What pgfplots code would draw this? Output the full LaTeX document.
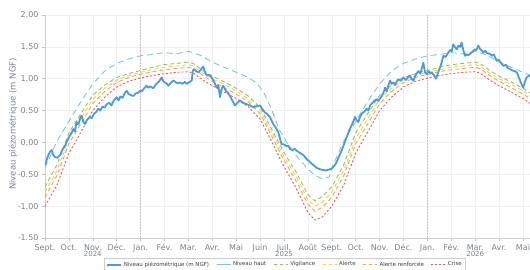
\documentclass[border=0pt]{standalone}
\usepackage{pgfplots}
\pgfplotsset{compat=1.18}
\usepackage{fontspec}
\setmainfont{DejaVu Sans}
\definecolor{obs}{RGB}{74,155,226}
\definecolor{haut}{RGB}{125,196,228}
\definecolor{vig}{RGB}{143,196,86}
\definecolor{alerte}{RGB}{246,206,80}
\definecolor{renf}{RGB}{245,166,60}
\definecolor{crise}{RGB}{235,90,90}
\definecolor{txt}{RGB}{122,130,142}
\begin{document}
\begin{tikzpicture}
\useasboundingbox (0,0) rectangle (530pt,270pt);
\clip (0,0) rectangle (530pt,270pt);
\begin{axis}[
  at={(45pt,32pt)}, anchor=south west,
  scale only axis, width=501.9pt, height=223pt,
  xmin=0, xmax=21, ymin=-1.5, ymax=2,
  axis x line=bottom, axis y line=left,
  axis line style={-, draw=gray!40, line width=0.5pt},
  xtick={0,...,20},
  xticklabels={Sept.,Oct.,Nov.,Déc.,Jan.,Fév.,Mar.,Avr.,Mai,Juin,Juil.,Août,Sept.,Oct.,Nov.,Déc.,Jan.,Fév.,Mar.,Avr.,Mai},
  ytick={-1.5,-1,-0.5,0,0.5,1,1.5,2},
  yticklabels={-1.50,-1.00,-0.50,0.00,0.50,1.00,1.50,2.00},
  tick label style={font=\fontsize{8}{9}\selectfont, text=txt},
  tick align=outside, major tick length=3pt,
  tick style={draw=gray!50, line width=0.5pt},
  grid=major, major grid style={draw=gray!12, line width=0.5pt},
  legend style={at={(0.478,-0.0897)}, anchor=north, legend columns=6,
    font=\fontsize{5.5}{6.5}\selectfont, draw=gray!40, text=black!75,
    inner sep=1.5pt,
    /tikz/every even column/.append style={column sep=5pt}},
  legend cell align=left,
  legend image code/.code={\draw[#1] (0pt,0pt) -- (14pt,0pt);},
]
\addlegendimage{obs, line width=1.8pt}
\addlegendentry{Niveau piézométrique (m NGF)}
\addlegendimage{haut, line width=0.9pt}
\addlegendentry{Niveau haut}
\addlegendimage{vig, line width=0.9pt, dash pattern=on 3pt off 3pt}
\addlegendentry{Vigilance}
\addlegendimage{alerte, line width=0.9pt, dash pattern=on 3pt off 3pt}
\addlegendentry{Alerte}
\addlegendimage{renf, line width=0.9pt, dash pattern=on 3pt off 3pt}
\addlegendentry{Alerte renforcée}
\addlegendimage{crise, line width=0.9pt, dash pattern=on 2pt off 2pt}
\addlegendentry{Crise}

\draw[gray!45, line width=0.5pt, dash pattern=on 1.5pt off 1.5pt] (axis cs:4,-1.5) -- (axis cs:4,2);
\draw[gray!45, line width=0.5pt, dash pattern=on 1.5pt off 1.5pt] (axis cs:16,-1.5) -- (axis cs:16,2);

% Niveau haut
\addplot[forget plot, haut, line width=0.9pt, dash pattern=on 6pt off 4pt] coordinates {
(0,-0.40)(0.5,0.02)(1,0.33)(1.5,0.64)(2,0.92)(2.5,1.12)(3,1.24)(3.5,1.31)(4,1.36)(4.5,1.38)(5,1.41)(5.5,1.39)(6,1.43)(6.5,1.37)(7,1.26)(7.5,1.18)(8,1.10)(8.5,1.02)(8.9,0.92)(9.2,0.75)(9.5,0.50)(9.8,0.20)(10.2,-0.05)(10.5,-0.20)(11,-0.42)(11.3,-0.52)(11.6,-0.57)(11.9,-0.54)
(12,-0.40)(12.5,0.02)(13,0.33)(13.5,0.64)(14,0.92)(14.5,1.12)(15,1.24)(15.5,1.31)(16,1.36)(16.5,1.38)(17,1.41)(17.5,1.39)(18,1.43)(18.5,1.37)(19,1.26)(19.5,1.18)(20,1.10)(20.5,1.02)
};
% Vigilance
\addplot[forget plot, vig, line width=0.9pt, dash pattern=on 4pt off 3pt] coordinates {
(0,-0.70)(0.5,-0.35)(1,0.15)(1.5,0.45)(2,0.74)(2.5,0.90)(3,1.02)(3.5,1.08)(4,1.13)(4.5,1.18)(5,1.22)(5.5,1.24)(6,1.26)(6.2,1.24)(6.6,1.13)(7,1.04)(7.5,0.95)(8,0.85)(8.5,0.73)(9,0.55)(9.5,0.20)(10,-0.16)(10.5,-0.46)(11,-0.82)(11.3,-0.92)(11.6,-0.85)
(12,-0.70)(12.5,-0.35)(13,0.15)(13.5,0.45)(14,0.74)(14.5,0.90)(15,1.02)(15.5,1.08)(16,1.13)(16.5,1.18)(17,1.22)(17.5,1.24)(18,1.26)(18.2,1.24)(18.6,1.13)(19,1.04)(19.5,0.95)(20,0.85)(20.5,0.73)
};
% Alerte
\addplot[forget plot, alerte, line width=0.9pt, dash pattern=on 4pt off 3pt] coordinates {
(0,-0.78)(0.5,-0.44)(1,0.06)(1.5,0.37)(2,0.68)(2.5,0.85)(3,0.98)(3.5,1.05)(4,1.10)(4.5,1.14)(5,1.18)(5.5,1.20)(6,1.22)(6.2,1.20)(6.6,1.09)(7,1.00)(7.5,0.91)(8,0.81)(8.5,0.68)(9,0.50)(9.5,0.15)(10,-0.22)(10.5,-0.53)(11,-0.90)(11.3,-1.00)(11.6,-0.94)
(12,-0.78)(12.5,-0.44)(13,0.06)(13.5,0.37)(14,0.68)(14.5,0.85)(15,0.98)(15.5,1.05)(16,1.10)(16.5,1.14)(17,1.18)(17.5,1.20)(18,1.22)(18.2,1.20)(18.6,1.09)(19,1.00)(19.5,0.91)(20,0.81)(20.5,0.68)
};
% Alerte renforcee
\addplot[forget plot, renf, line width=0.9pt, dash pattern=on 4pt off 3pt] coordinates {
(0,-0.86)(0.5,-0.52)(1,-0.02)(1.5,0.29)(2,0.61)(2.5,0.80)(3,0.94)(3.5,1.02)(4,1.07)(4.5,1.11)(5,1.14)(5.5,1.16)(6,1.18)(6.2,1.16)(6.6,1.05)(7,0.96)(7.5,0.86)(8,0.76)(8.5,0.64)(9,0.45)(9.5,0.09)(10,-0.28)(10.5,-0.60)(11,-0.97)(11.3,-1.08)(11.6,-1.02)
(12,-0.86)(12.5,-0.52)(13,-0.02)(13.5,0.29)(14,0.61)(14.5,0.80)(15,0.94)(15.5,1.02)(16,1.07)(16.5,1.11)(17,1.14)(17.5,1.16)(18,1.18)(18.2,1.16)(18.6,1.05)(19,0.96)(19.5,0.86)(20,0.76)(20.5,0.64)
};
% Crise
\addplot[forget plot, crise, line width=0.9pt, dash pattern=on 2pt off 2pt] coordinates {
(0,-1.00)(0.5,-0.67)(1,-0.17)(1.5,0.16)(2,0.50)(2.5,0.71)(3,0.87)(3.5,0.96)(4,1.01)(4.5,1.05)(5,1.08)(5.5,1.10)(6,1.11)(6.2,1.09)(6.6,0.98)(7,0.89)(7.5,0.79)(8,0.69)(8.5,0.56)(9,0.37)(9.5,0.00)(10,-0.38)(10.5,-0.71)(11,-1.10)(11.3,-1.22)(11.6,-1.17)
(12,-1.00)(12.5,-0.67)(13,-0.17)(13.5,0.16)(14,0.50)(14.5,0.71)(15,0.87)(15.5,0.96)(16,1.01)(16.5,1.05)(17,1.08)(17.5,1.10)(18,1.11)(18.2,1.09)(18.6,0.98)(19,0.89)(19.5,0.79)(20,0.69)(20.5,0.56)
};
% Observed level
\addplot[forget plot, obs, line width=1.8pt, line join=round] coordinates {
(0.00,-0.35)(0.05,-0.30)(0.12,-0.22)(0.20,-0.15)(0.28,-0.12)(0.35,-0.20)(0.42,-0.23)(0.52,-0.24)(0.63,-0.20)(0.72,-0.12)(0.84,-0.05)(0.92,0.02)(1.00,0.08)(1.05,0.11)(1.12,0.16)(1.19,0.21)(1.25,0.17)(1.32,0.32)(1.40,0.28)(1.47,0.38)(1.53,0.42)(1.60,0.33)(1.67,0.29)(1.75,0.35)(1.88,0.40)(1.95,0.38)
(2.05,0.45)(2.15,0.48)(2.23,0.53)(2.32,0.50)(2.40,0.56)(2.50,0.55)(2.58,0.60)(2.68,0.62)(2.78,0.58)(2.88,0.66)(3.00,0.71)(3.08,0.66)(3.15,0.72)(3.25,0.70)(3.33,0.77)(3.42,0.81)(3.50,0.76)(3.60,0.74)(3.70,0.73)(3.80,0.77)(3.90,0.78)(3.97,0.81)
(4.05,0.80)(4.15,0.85)(4.25,0.89)(4.32,0.86)(4.40,0.88)(4.53,0.85)(4.62,0.90)(4.72,0.94)(4.80,0.97)(4.88,1.02)(4.95,0.96)(5.02,0.94)(5.10,0.92)(5.16,0.89)(5.25,0.93)(5.37,0.97)(5.45,0.95)(5.55,0.93)(5.65,0.94)(5.75,0.92)(5.85,0.95)(5.93,0.92)
(6.05,0.95)(6.14,0.97)(6.18,1.12)(6.23,1.15)(6.32,1.12)(6.42,1.10)(6.52,1.14)(6.62,1.19)(6.70,1.10)(6.77,1.05)(6.88,1.06)(6.97,1.02)(7.08,0.95)(7.18,0.86)(7.25,0.90)(7.32,0.71)(7.40,0.85)(7.46,0.89)(7.55,0.82)(7.65,0.78)(7.74,0.73)(7.85,0.65)(7.95,0.58)
(8.05,0.62)(8.16,0.66)(8.30,0.62)(8.44,0.60)(8.58,0.58)(8.72,0.55)(8.85,0.57)(9.00,0.58)(9.10,0.52)(9.20,0.47)(9.28,0.45)(9.41,0.40)(9.55,0.29)(9.69,0.21)(9.76,0.16)(9.90,-0.03)
(10.00,-0.03)(10.10,-0.06)(10.18,-0.05)(10.25,-0.10)(10.35,-0.12)(10.45,-0.10)(10.53,-0.13)(10.65,-0.16)(10.81,-0.20)(10.95,-0.26)(11.09,-0.31)(11.25,-0.36)(11.37,-0.40)(11.50,-0.42)(11.60,-0.43)(11.72,-0.44)(11.85,-0.43)
(12.00,-0.41)(12.10,-0.37)(12.20,-0.31)(12.30,-0.22)(12.41,-0.13)(12.52,-0.02)(12.62,0.08)(12.72,0.18)(12.83,0.27)(12.90,0.33)(12.97,0.40)(13.04,0.35)(13.11,0.32)(13.18,0.40)(13.25,0.45)(13.35,0.48)(13.46,0.53)(13.53,0.50)(13.60,0.58)(13.70,0.62)(13.80,0.66)(13.88,0.68)(13.95,0.65)
(14.09,0.73)(14.16,0.78)(14.23,0.86)(14.30,0.80)(14.37,0.90)(14.44,0.97)(14.50,0.92)(14.57,0.94)(14.65,0.90)(14.72,0.96)(14.78,0.99)(14.88,0.97)(14.99,1.02)(15.10,0.98)(15.20,1.03)(15.27,1.05)(15.34,1.00)(15.41,0.97)(15.50,1.05)(15.62,1.12)(15.70,1.08)(15.78,1.18)(15.83,1.25)(15.90,1.10)(15.97,1.07)
(16.05,1.12)(16.12,1.08)(16.18,1.10)(16.28,1.05)(16.36,1.00)(16.45,1.10)(16.53,1.18)(16.60,1.26)(16.67,1.36)(16.75,1.34)(16.88,1.41)(16.95,1.45)(17.02,1.43)(17.08,1.54)(17.15,1.50)(17.23,1.46)(17.30,1.52)(17.38,1.50)(17.43,1.57)(17.50,1.45)(17.57,1.36)(17.65,1.38)(17.72,1.37)(17.78,1.39)(17.88,1.42)(17.98,1.46)
(18.05,1.45)(18.13,1.52)(18.20,1.47)(18.28,1.44)(18.34,1.41)(18.42,1.44)(18.50,1.40)(18.62,1.39)(18.70,1.36)(18.78,1.38)(18.90,1.28)(18.98,1.30)(19.08,1.25)(19.18,1.20)(19.28,1.22)(19.36,1.17)(19.46,1.15)(19.55,1.13)(19.65,1.12)(19.74,1.10)(19.85,1.00)(19.93,0.92)
(20.01,0.86)(20.08,0.95)(20.15,1.02)(20.22,1.04)(20.29,1.05)(20.35,1.06)
};
\end{axis}
\node[font=\fontsize{7}{8}\selectfont, text=txt] at (92.8pt,16pt) {2024};
\node[font=\fontsize{7}{8}\selectfont, text=txt] at (284pt,16pt) {2025};
\node[font=\fontsize{7}{8}\selectfont, text=txt] at (475.2pt,16pt) {2026};
\node[rotate=90, font=\fontsize{8.5}{10}\selectfont, text=txt] at (13pt,146pt) {Niveau piézométrique (m NGF)};
\end{tikzpicture}
\end{document}
